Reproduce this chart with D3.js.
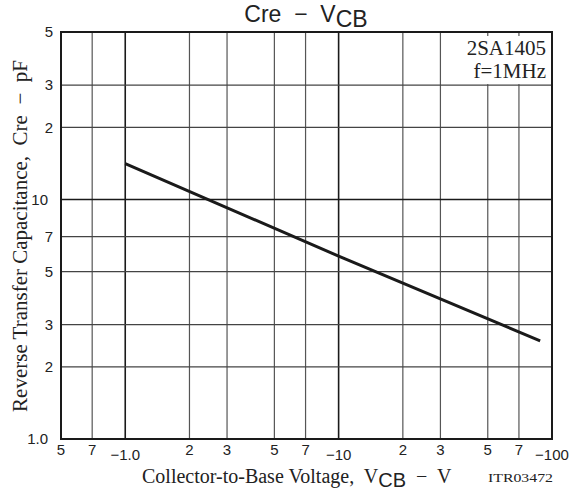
<!DOCTYPE html>
<html>
<head>
<meta charset="utf-8">
<script src="https://cdnjs.cloudflare.com/ajax/libs/d3/7.8.5/d3.min.js"></script>
<style>
body{margin:0;background:#fff;}
text{white-space:pre;}
.tick-lab{font-family:"Liberation Sans",Arial,sans-serif;font-size:15px;fill:#222;}
.serif{font-family:"Liberation Serif","Times New Roman",serif;fill:#222;}
</style>
</head>
<body>
<div id="canvas" class="canvas" style="width:573px;height:493px;"></div>
<script>
// Cre - VCB, 2SA1405, log-log

var xGrid = [0.5,0.7,1,2,3,5,7,10,20,30,50,70,100],
    xLabels = ['5','7','\u22121.0','2','3','5','7','\u221210','2','3','5','7','\u2212100'],
    yGrid = [1,2,3,5,7,10,20,30,50],
    yLabels = ['1.0','2','3','5','7','10','2','3','5'];

// |VCB| (V) vs Cre (pF)
var vcb = [1, 10, 88],
    cre = [14.1, 5.8, 2.57];

var m = {t:32,r:21,b:54,l:61},
    w = 573 - m.l - m.r,
    h = 493 - m.t - m.b;

var svg = d3.select('.canvas')
    .append('svg')
    .attr('width', 573)
    .attr('height', 493);

var plot = svg.append('g').attr('class','plot')
    .attr('transform','translate('+ m.l+','+ m.t+')');

var x = d3.scaleLog().domain([0.5,100]).range([0,w]),
    y = d3.scaleLog().domain([1,50]).range([h,0]);

function isMajor(v){ return Math.abs(Math.log10(v) - Math.round(Math.log10(v))) < 1e-9; }

//grid
plot.selectAll('.vgrid')
    .data(xGrid)
    .enter()
    .append('line').attr('class','vgrid')
    .attr('x1',function(d){return x(d)}).attr('x2',function(d){return x(d)})
    .attr('y1',0).attr('y2',h)
    .style('stroke',function(d){return isMajor(d)?'#1a1a1a':'#555'})
    .style('stroke-width',function(d){return isMajor(d)?'1.6px':'1.2px'});

//white box behind the part label (covers the upper vertical grid only)
plot.append('rect')
    .attr('x', 401).attr('y', 4)
    .attr('width', w-401).attr('height', y(30)-5)
    .style('fill','#fff');

plot.selectAll('.hgrid')
    .data(yGrid)
    .enter()
    .append('line').attr('class','hgrid')
    .attr('y1',function(d){return y(d)}).attr('y2',function(d){return y(d)})
    .attr('x1',0).attr('x2',w)
    .style('stroke',function(d){return isMajor(d)?'#1a1a1a':'#444'})
    .style('stroke-width',function(d){return isMajor(d)?'1.6px':'1.2px'});

//frame
plot.append('rect')
    .attr('width', w).attr('height', h)
    .style('fill','none')
    .style('stroke','#1a1a1a')
    .style('stroke-width','2px');

//curve
var line = d3.line()
    .x(function(d){return x(d[0])})
    .y(function(d){return y(d[1])});

plot.append('path')
    .datum(d3.zip(vcb, cre))
    .attr('d', line)
    .style('fill','none')
    .style('stroke','#1a1a1a')
    .style('stroke-width','3px');

//tick labels
plot.selectAll('.xlab')
    .data(xGrid)
    .enter()
    .append('text').attr('class','tick-lab xlab')
    .attr('x',function(d){return x(d)})
    .attr('y',function(d){return h + (isMajor(d)?21:16)})
    .attr('text-anchor','middle')
    .text(function(d,i){return xLabels[i]});

plot.selectAll('.ylab')
    .data(yGrid)
    .enter()
    .append('text').attr('class','tick-lab ylab')
    .attr('x',function(d,i){return yLabels[i].length>1?-13:-8})
    .attr('y',function(d){return y(d)})
    .attr('dy','0.35em')
    .attr('text-anchor','end')
    .text(function(d,i){return yLabels[i]});

//part label
plot.append('text').attr('class','serif')
    .attr('x', w-6).attr('y', 23)
    .attr('text-anchor','end')
    .style('font-size','21px')
    .text('2SA1405');
plot.append('text').attr('class','serif')
    .attr('x', w-6).attr('y', 46)
    .attr('text-anchor','end')
    .style('font-size','21px')
    .text('f=1MHz');

//title
var title = svg.append('text')
    .attr('x', 306).attr('y', 22)
    .attr('text-anchor','middle')
    .style('font-family','"Liberation Sans",Arial,sans-serif')
    .style('font-size','23px')
    .style('fill','#222');
title.append('tspan').text('Cre  \u2212  V');
title.append('tspan').attr('dy',5).text('CB');

//x title
var xt = svg.append('text').attr('class','serif')
    .attr('x', 142).attr('y', 483)
    .style('font-size','20px');
xt.append('tspan').text('Collector-to-Base Voltage,  V');
xt.append('tspan').attr('dy',4)
    .style('font-family','"Liberation Sans",Arial,sans-serif')
    .style('font-size','20px')
    .text('CB');
xt.append('tspan').attr('dy',-4).text('  \u2212  V');

svg.append('text').attr('class','serif')
    .attr('x', 488).attr('y', 482)
    .attr('textLength', 65)
    .attr('lengthAdjust','spacingAndGlyphs')
    .style('font-size','12px')
    .text('ITR03472');

//y title
svg.append('text').attr('class','serif')
    .attr('transform','translate(27,236) rotate(-90)')
    .attr('text-anchor','middle')
    .style('font-size','21px')
    .text('Reverse Transfer Capacitance,  Cre  \u2212  pF');
</script>
</body>
</html>
